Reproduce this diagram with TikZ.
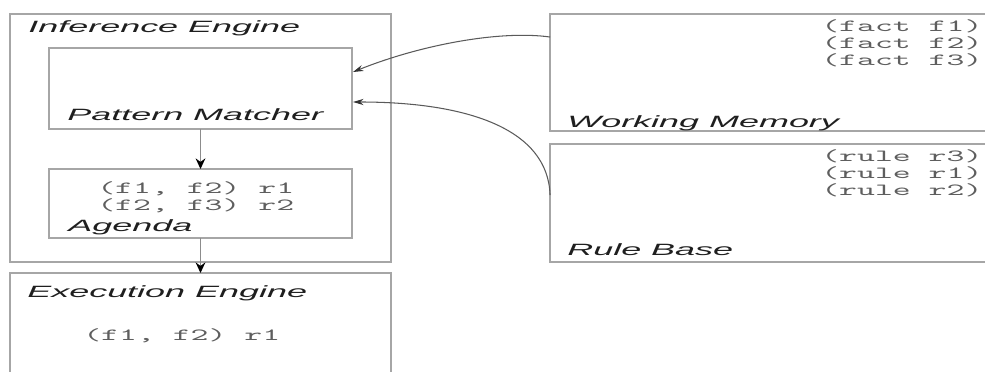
\documentclass[tikz,border=0pt]{standalone}
\usepackage{fontspec}
\usepackage{graphicx}
\usetikzlibrary{arrows.meta,calc}
\newfontfamily\labelfont{Liberation Sans}
% wide lettering for labels and listings
\newcommand\stretchlabel[1]{\scalebox{2.2}[1]{#1}}
\newcommand\stretchcode[1]{\scalebox{2.0}[1]{#1}}
\definecolor{frame}{HTML}{A6A6A6}
\definecolor{listing}{HTML}{5E5E5E}
\definecolor{wire}{HTML}{5A5A5A}
\definecolor{vwire}{HTML}{8C8C8C}

\begin{document}
\begin{tikzpicture}[x=0.02cm,y=-0.02cm,
  box/.style={draw=frame, line width=0.9pt, inner sep=0pt, outer sep=0pt},
  lbl/.style={anchor=base west, inner sep=0pt, text=black!88,
    font=\labelfont\itshape\fontsize{9.3}{11}\selectfont},
  code/.style={anchor=base west, inner sep=0pt, text=listing,
    font=\ttfamily\fontsize{9.7}{9.4}\selectfont},
  flow/.style={draw=vwire, line width=1pt,
    -{Stealth[length=6pt,width=5.5pt,color=black]}},
  feed/.style={draw=wire, line width=0.6pt,
    -{Stealth[length=6pt,width=3.5pt,color=black!80]}}
]
\clip (0,0) rectangle (985,372);

% boxes
\node[box, minimum width=7.62cm, minimum height=4.96cm] (ie) at (200.5,138) {};
\node[box, minimum width=6.06cm, minimum height=1.62cm] (pm) at (200.5,88.5) {};
\node[box, minimum width=6.06cm, minimum height=1.38cm] (ag) at (200.5,203.5) {};
\node[box, minimum width=7.62cm, minimum height=2.54cm] (ee) at (200.5,336.5) {};
\node[box, minimum width=9.4cm, minimum height=2.34cm] (wm) at (785,72.5) {};
\node[box, minimum width=9.4cm, minimum height=2.36cm] (rb) at (785,203) {};

% labels
\node[lbl] (ielbl) at (28,32) {\stretchlabel{Inference Engine}};
\node[lbl] (pmlbl) at (67,120) {\stretchlabel{Pattern Matcher}};
\node[lbl] (aglbl) at (68,231) {\stretchlabel{Agenda}};
\node[lbl] (eelbl) at (27,297) {\stretchlabel{Execution Engine}};
\node[lbl] (wmlbl) at (567,127) {\stretchlabel{Working Memory}};
\node[lbl] (rblbl) at (567,255) {\stretchlabel{Rule Base}};

% listings
\node[code] (facts) at (821,65) {\stretchcode{\vbox{\baselineskip=9.4pt
  \hbox{(fact f1)}\hbox{(fact f2)}\hbox{(fact f3)}}}};
\node[code] (rules) at (821,195) {\stretchcode{\vbox{\baselineskip=9.4pt
  \hbox{(rule r3)}\hbox{(rule r1)}\hbox{(rule r2)}}}};
\node[code] (agenda) at (97,210) {\stretchcode{\vbox{\baselineskip=9.4pt
  \hbox{(f1, f2) r1}\hbox{(f2, f3) r2}}}};
\node[code] (fired) at (83,340) {\stretchcode{(f1, f2) r1}};

% connectors
\draw[flow] (pm) -- (ag);
\draw[flow] (ag) -- (ee);
\coordinate (wmout) at ($(wm.north west)+(0,23)$);
\coordinate (pmin1) at ($(pm.north east)+(1,24)$);
\coordinate (rbout) at ($(rb.north west)+(0,51)$);
\coordinate (pmin2) at ($(pm.south east)+(1,-27)$);
\draw[feed] (wmout) .. controls (500,30) and (420,45) .. (pmin1);
\draw[feed] (rbout) .. controls (548,130) and (470,102) .. (pmin2);
\end{tikzpicture}
\end{document}
